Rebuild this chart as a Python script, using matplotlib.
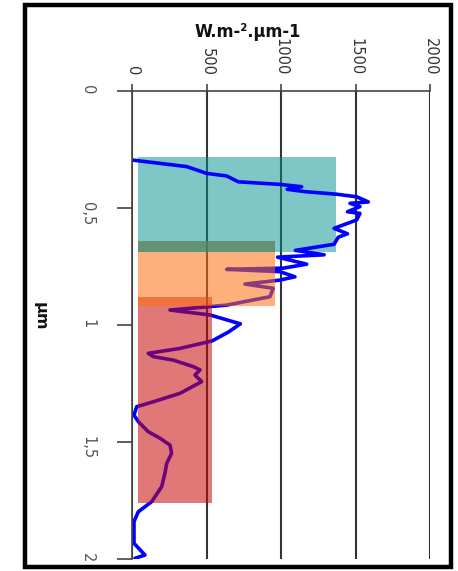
import matplotlib
matplotlib.use("Agg")
import matplotlib.pyplot as plt
from matplotlib import font_manager
from matplotlib.patches import Rectangle

# ---- data ----
wavelength_um = [0.295, 0.323, 0.352, 0.363, 0.388, 0.399, 0.409, 0.420, 0.430, 0.441,
                 0.452, 0.474, 0.480, 0.494, 0.516, 0.523, 0.551, 0.587, 0.610, 0.625,
                 0.655, 0.681, 0.700, 0.710, 0.740, 0.757, 0.762, 0.772, 0.794, 0.808,
                 0.825, 0.843, 0.879, 0.915, 0.936, 0.957, 0.995, 1.030, 1.068, 1.100,
                 1.121, 1.135, 1.150, 1.178, 1.192, 1.214, 1.242, 1.292, 1.328, 1.349,
                 1.385, 1.413, 1.456, 1.484, 1.513, 1.548, 1.591, 1.634, 1.691, 1.755,
                 1.798, 1.840, 1.933, 1.983, 1.997]
irradiance = [0, 364, 499, 633, 711, 991, 1137, 1040, 1160, 1372,
              1507, 1585, 1462, 1529, 1445, 1529, 1507, 1355, 1445, 1383,
              1355, 1095, 1288, 975, 1171, 1013, 633, 991, 1092, 991,
              756, 946, 924, 633, 252, 521, 725, 645, 535, 319,
              106, 140, 274, 409, 454, 420, 465, 319, 140, 28,
              10, 39, 106, 185, 252, 263, 230, 218, 196, 129,
              39, 10, 10, 84, 17]

band_lo = [0.28, 0.64, 0.88]      # µm
band_hi = [0.69, 0.92, 1.76]      # µm
band_val = [1370, 958, 532]       # W.m-2.µm-1
band_left = 35
band_colors = ['#009191', '#ff6f0d', '#c70a0a']

x_ticks = [0, 500, 1000, 1500, 2000]
y_ticks = [0, 0.5, 1, 1.5, 2]
y_ticklabels = ['0', '0,5', '1', '1,5', '2']

names = {f.name for f in font_manager.fontManager.ttflist}
if 'Liberation Sans Narrow' in names:
    title_kw = dict(family=['Liberation Sans Narrow', 'DejaVu Sans'], fontsize=15)
else:
    title_kw = dict(family=['DejaVu Sans'], fontstretch='condensed', fontsize=13)

fig = plt.figure(figsize=(4.58, 5.71), dpi=100)
ax = fig.add_axes([0.2893, 0.021, 0.6496, 0.8196])

ax.set_xlim(0, 2000)
ax.set_ylim(2, 0)

# bands
bar_z = [1, 4, 3]
for lo, hi, v, c, z in zip(band_lo, band_hi, band_val, band_colors, bar_z):
    ax.barh(lo, v - band_left, height=hi - lo, left=band_left, align='edge',
            color=c, alpha=0.5 if z == 1 else 0.55, linewidth=0, zorder=z)
# teal over orange where they overlap
ov_lo = max(band_lo[0], band_lo[1])
ov_hi = min(band_hi[0], band_hi[1])
ov_v = min(band_val[0], band_val[1])
ax.barh(ov_lo, ov_v - band_left, height=ov_hi - ov_lo, left=band_left, align='edge',
        color=band_colors[0], alpha=0.5, linewidth=0, zorder=5)

ax.plot(irradiance, wavelength_um, color='#0000ff', lw=2.6, zorder=2,
        solid_joinstyle='round', solid_capstyle='round')

ax.set_axisbelow(True)
ax.grid(axis='x', color='#333333', lw=1.5)
ax.grid(axis='y', visible=False)

ax.xaxis.tick_top()
ax.set_xticks(x_ticks)
ax.set_xticklabels([str(t) for t in x_ticks], rotation=-90, fontsize=10.5, color='#333333')
ax.set_yticks(y_ticks)
ax.set_yticklabels(y_ticklabels, rotation=-90, fontsize=10.5, color='#555555')

ax.tick_params(axis='x', which='both', length=5, width=1.2, color='#444444', pad=6,
               top=True, bottom=False)
ax.tick_params(axis='y', length=11, width=1.2, color='#444444', pad=16)

for s in ['right', 'bottom']:
    ax.spines[s].set_visible(False)
for s in ['top', 'left']:
    ax.spines[s].set_color('#444444')
    ax.spines[s].set_linewidth(1.2)

fig.text(0.5415, 0.9448, 'W.m-².µm-1', ha='center', va='center',
         fontweight='bold', color='#111111', **title_kw)
fig.text(0.0873, 0.4466, 'µm', ha='center', va='center', rotation=-90,
         fontsize=11.5, fontweight='bold', color='#111111')

# outer frame
W, H = 458.0, 571.0
fig.patches.append(Rectangle((24.5 / W, 1 - 567 / H), (451 - 24.5) / W, (567 - 5) / H,
                             transform=fig.transFigure, fill=False, edgecolor='black',
                             linewidth=3.2, zorder=10))

fig.savefig('out.png', dpi=100)
